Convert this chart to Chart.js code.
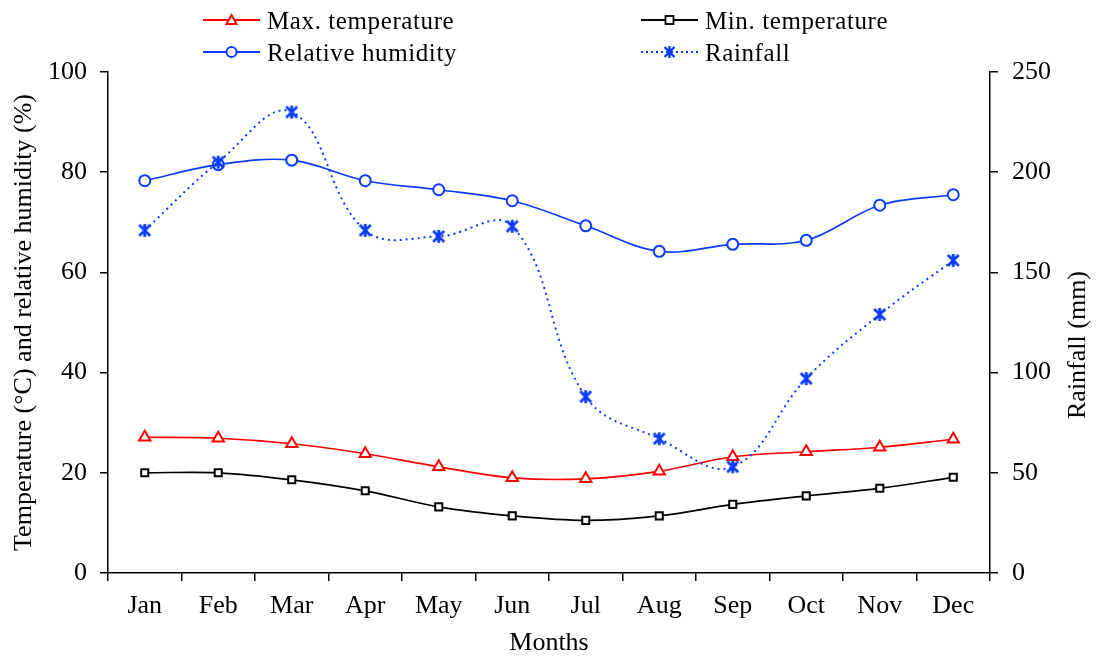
<!DOCTYPE html>
<html><head><meta charset="utf-8">
<script src="https://cdn.jsdelivr.net/npm/chart.js@4.4.1/dist/chart.umd.min.js"></script>
<style>
html,body{margin:0;padding:0;background:#fff;}
#wrap{position:relative;width:1100px;height:660px;font-family:"Liberation Serif","Times New Roman",serif;}
#legend{position:absolute;left:0;top:0;width:1100px;height:70px;}
.li{position:absolute;height:30px;display:flex;align-items:center;font-size:25px;letter-spacing:0.6px;color:#000;white-space:nowrap;line-height:1;}
.li svg{margin-right:7px;}
#rtitle{position:absolute;left:1077px;top:345px;transform:translate(-50%,-50%) rotate(-90deg);font-size:26px;color:#000;white-space:nowrap;line-height:1;}
</style></head>
<body><div id="wrap"><canvas id="c" width="1100" height="660"></canvas><div id="legend"></div><div id="rtitle">Rainfall (mm)</div></div>
<script>
const months = ["Jan","Feb","Mar","Apr","May","Jun","Jul","Aug","Sep","Oct","Nov","Dec"];
const maxTemp = [27.1,26.9,25.8,23.8,21.2,19.0,18.8,20.3,23.2,24.2,25.1,26.7];
const minTemp = [20.0,20.0,18.6,16.4,13.2,11.4,10.5,11.4,13.7,15.4,16.9,19.1];
const humidity = [78.3,81.5,82.4,78.3,76.5,74.3,69.3,64.2,65.6,66.4,73.4,75.5];
const rainfall = [171,205,230,171,168,173,88,67,53,97,129,156];
const leftTicks = [0,20,40,60,80,100];
const rightTicks = [0,50,100,150,200,250];

const FONT = "'Liberation Serif','Times New Roman',serif";
const BLUE = "#0a3cff";

function starImg(size,color,lw){
  const cv=document.createElement('canvas');cv.width=size;cv.height=size;
  const g=cv.getContext('2d');g.strokeStyle=color;g.lineWidth=lw;g.lineCap='butt';
  const m=2,s=size-2;
  g.beginPath();
  g.moveTo(m,m);g.lineTo(s,s);g.moveTo(s,m);g.lineTo(m,s);
  g.moveTo(size/2,m-1);g.lineTo(size/2,s+1);
  g.stroke();return cv;
}
const star = starImg(15,BLUE,2.8);

const ds = [
 {label:"Max. temperature",data:maxTemp,yAxisID:'y',borderColor:'#ff0000',borderWidth:1.7,pointStyle:'triangle',pointRadius:6.5,pointBorderWidth:2,pointBackgroundColor:'#fff',pointBorderColor:'#ff0000',tension:0.35,order:3},
 {label:"Min. temperature",data:minTemp,yAxisID:'y',borderColor:'#000',borderWidth:1.7,pointStyle:'rect',pointRadius:5,pointBorderWidth:2,pointBackgroundColor:'#fff',pointBorderColor:'#000',tension:0.35,order:4},
 {label:"Relative humidity",data:humidity,yAxisID:'y',borderColor:BLUE,borderWidth:1.7,pointStyle:'circle',pointRadius:5.5,pointBorderWidth:2,pointBackgroundColor:'#fff',pointBorderColor:BLUE,tension:0.35,order:2},
 {label:"Rainfall",data:rainfall,yAxisID:'y1',borderColor:BLUE,borderWidth:2,borderDash:[2,4],pointStyle:star,pointRadius:7,tension:0.4,order:1}
];

new Chart(document.getElementById('c'),{
 type:'line',
 data:{labels:months,datasets:ds},
 options:{
  responsive:false,animation:false,
  layout:{padding:{top:72,left:0,right:0,bottom:0}},
  plugins:{legend:{display:false},tooltip:{enabled:false}},
  scales:{
   x:{type:'category',offset:true,
      grid:{offset:true,drawOnChartArea:false,tickLength:8,color:'#000',lineWidth:1.5},
      border:{color:'#000',width:1.5},
      ticks:{color:'#000',font:{family:FONT,size:26},padding:10,maxRotation:0},
      title:{display:true,text:'Months',color:'#000',font:{family:FONT,size:26},padding:{top:0,bottom:1}},
      afterFit:s=>{s.height=87;}
   },
   y:{position:'left',min:0,max:100,afterBuildTicks:s=>{s.ticks=leftTicks.map(v=>({value:v}));},
      grid:{drawOnChartArea:false,tickLength:8,color:'#000',lineWidth:1.5},
      border:{color:'#000',width:1.5},
      ticks:{color:'#000',font:{family:FONT,size:26},padding:13},
      title:{display:true,text:'Temperature (°C) and relative humidity (%)',color:'#000',font:{family:FONT,size:26},padding:{top:9,bottom:0}},
      afterFit:s=>{s.width=108;}
   },
   y1:{position:'right',min:0,max:250,afterBuildTicks:s=>{s.ticks=rightTicks.map(v=>({value:v}));},
      grid:{drawOnChartArea:false,tickLength:8,color:'#000',lineWidth:1.5},
      border:{color:'#000',width:1.5},
      ticks:{color:'#000',font:{family:FONT,size:26},padding:14},
      afterFit:s=>{s.width=110;}
   }
  }
 }
});

function sym(d){
  const w=57,h=16,c=h/2;
  let line=`<line x1="0" y1="${c}" x2="${w}" y2="${c}" stroke="${d.borderColor}" stroke-width="2" ${d.borderDash?'stroke-dasharray="2,3"':''}/>`;
  let m='';const x=w/2;
  if(d.pointStyle==='triangle') m=`<polygon points="${x},${c-5} ${x+5},${c+4} ${x-5},${c+4}" fill="#fff" stroke="${d.borderColor}" stroke-width="2"/>`;
  else if(d.pointStyle==='rect') m=`<rect x="${x-4}" y="${c-4}" width="8" height="8" fill="#fff" stroke="${d.borderColor}" stroke-width="1.8"/>`;
  else if(d.pointStyle==='circle') m=`<circle cx="${x}" cy="${c}" r="5" fill="#fff" stroke="${d.borderColor}" stroke-width="2"/>`;
  else m=`<path d="M${x-5} ${c-5}L${x+5} ${c+5}M${x+5} ${c-5}L${x-5} ${c+5}M${x} ${c-6}L${x} ${c+6}" stroke="${d.borderColor}" stroke-width="2.4"/>`;
  return `<svg width="${w}" height="${h}">${line}${m}</svg>`;
}
const pos=[[203,5],[641,5],[203,37],[641,37]];
const lg=document.getElementById('legend');
ds.forEach((d,i)=>{
  const el=document.createElement('div');el.className='li';
  el.style.left=pos[i][0]+'px';el.style.top=pos[i][1]+'px';
  el.innerHTML=sym(d)+'<span>'+d.label+'</span>';
  lg.appendChild(el);
});
</script></body></html>
